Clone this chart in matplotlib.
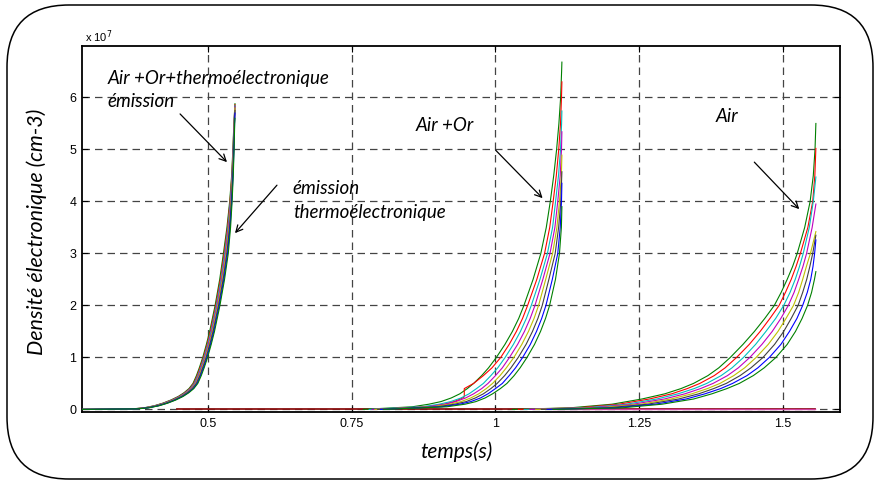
import numpy as np
import matplotlib
matplotlib.use("Agg")
import matplotlib.pyplot as plt
from matplotlib.patches import FancyBboxPatch

# MATLAB-style colour order of the eight simulated runs in each family
run_colors = ["#008000", "#ff0000", "#00bfbf", "#bf00bf", "#bfbf00", "#404040", "#0000ff", "#008000"]
nan = np.nan

# ---- Family 1 : Air + Or + emission thermoelectronique (density in 1e7 cm-3) ----
levels_1 = [0, 0.01, 0.03, 0.07, 0.12, 0.18, 0.25, 0.32, 0.4, 0.5, 0.65, 0.8, 1.0,
            1.25, 1.5, 2.0, 2.5, 3.0, 3.5, 4.0, 4.5, 5.0, 5.5]
times_1 = [
    [0.28, 0.3678, 0.3878, 0.4058, 0.4208, 0.4348, 0.4478, 0.4576, 0.4663, 0.4733, 0.4793, 0.4843, 0.4903,
     0.4966, 0.5023, 0.5118, 0.5198, 0.5263, 0.5324, 0.5372, 0.5406, 0.54275, 0.5445],
    [0.28, 0.3690, 0.3890, 0.4070, 0.4220, 0.4360, 0.4490, 0.4588, 0.4675, 0.4745, 0.4805, 0.4855, 0.4915,
     0.4978, 0.5035, 0.5130, 0.5210, 0.5275, 0.5333, 0.5378, 0.5410, 0.54305, 0.5447],
    [0.28, 0.3702, 0.3902, 0.4082, 0.4232, 0.4372, 0.4502, 0.4600, 0.4687, 0.4757, 0.4817, 0.4867, 0.4927,
     0.4990, 0.5047, 0.5142, 0.5222, 0.5287, 0.5342, 0.5384, 0.5414, 0.54335, 0.5449],
    [0.28, 0.3714, 0.3914, 0.4094, 0.4244, 0.4384, 0.4514, 0.4612, 0.4699, 0.4769, 0.4829, 0.4879, 0.4939,
     0.5002, 0.5059, 0.5154, 0.5234, 0.5299, 0.5351, 0.5390, 0.5418, 0.54365, 0.5451],
    [0.28, 0.3726, 0.3926, 0.4106, 0.4256, 0.4396, 0.4526, 0.4624, 0.4711, 0.4781, 0.4841, 0.4891, 0.4951,
     0.5014, 0.5071, 0.5166, 0.5246, 0.5311, 0.5360, 0.5396, 0.5422, 0.54395, 0.5453],
    [0.28, 0.3738, 0.3938, 0.4118, 0.4268, 0.4408, 0.4538, 0.4636, 0.4723, 0.4793, 0.4853, 0.4903, 0.4963,
     0.5026, 0.5083, 0.5178, 0.5258, 0.5323, 0.5369, 0.5402, 0.5426, 0.54425, 0.5455],
    [0.28, 0.3750, 0.3950, 0.4130, 0.4280, 0.4420, 0.4550, 0.4648, 0.4735, 0.4805, 0.4865, 0.4915, 0.4975,
     0.5038, 0.5095, 0.5190, 0.5270, 0.5335, 0.5378, 0.5408, 0.5430, 0.54455, 0.5457],
    [0.28, 0.3762, 0.3962, 0.4142, 0.4292, 0.4432, 0.4562, 0.4660, 0.4747, 0.4817, 0.4877, 0.4927, 0.4987,
     0.5050, 0.5107, 0.5202, 0.5282, 0.5347, 0.5387, 0.5414, 0.5434, 0.54485, 0.5459],
]
end_time_1 = 0.5464
end_peak_1 = [5.88, 5.86, 5.84, 5.82, 5.80, 5.75, 5.70, 5.60]

# ---- Family 2 : Air + Or ----
levels_2 = [0, 0.05, 0.1, 0.15, 0.22, 0.3, 0.4, 0.5, 0.65, 0.8, 1.0, 1.25, 1.5, 1.75, 2.0,
            2.5, 3.0, 3.5, 4.0, 4.5, 5.0, 5.5, 6.0, 6.5]
times_2 = [
    [0.770, 0.855, 0.884, 0.905, 0.923, 0.938, 0.951, 0.962, 0.976, 0.988, 1.0016, 1.0165, 1.0295, 1.0405, 1.0496,
     1.0655, 1.0790, 1.0885, 1.0955, 1.1015, 1.1065, 1.1105, 1.1135, 1.1152],
    [0.775, 0.864, 0.893, 0.914, 0.931, 0.946, 0.959, 0.970, 0.984, 0.996, 1.0092, 1.0239, 1.0365, 1.0472, 1.0560,
     1.0720, 1.0855, 1.0945, 1.1005, 1.1060, 1.1102, 1.1133, 1.1150, nan],
    [0.780, 0.872, 0.902, 0.922, 0.940, 0.954, 0.967, 0.979, 0.992, 1.004, 1.0169, 1.0312, 1.0435, 1.0538, 1.0624,
     1.0775, 1.0905, 1.0995, 1.1047, 1.1098, 1.1133, 1.1152, nan, nan],
    [0.785, 0.881, 0.911, 0.931, 0.948, 0.962, 0.976, 0.987, 1.000, 1.012, 1.0245, 1.0386, 1.0505, 1.0605, 1.0688,
     1.0825, 1.0950, 1.1035, 1.1085, 1.1128, 1.1150, nan, nan, nan],
    [0.790, 0.889, 0.920, 0.940, 0.957, 0.971, 0.984, 0.995, 1.008, 1.019, 1.0321, 1.0459, 1.0575, 1.0672, 1.0751,
     1.0875, 1.0995, 1.1070, 1.1115, 1.1148, nan, nan, nan, nan],
    [0.795, 0.898, 0.929, 0.949, 0.965, 0.979, 0.992, 1.003, 1.016, 1.027, 1.0397, 1.0533, 1.0645, 1.0739, 1.0815,
     1.0930, 1.1040, 1.1100, 1.1138, nan, nan, nan, nan, nan],
    [0.800, 0.906, 0.938, 0.957, 0.974, 0.987, 1.000, 1.012, 1.024, 1.035, 1.0474, 1.0607, 1.0715, 1.0805, 1.0879,
     1.0990, 1.1085, 1.1128, 1.1150, nan, nan, nan, nan, nan],
    [0.805, 0.915, 0.947, 0.966, 0.982, 0.995, 1.0085, 1.020, 1.0325, 1.043, 1.0550, 1.0680, 1.0785, 1.0872, 1.0943,
     1.1045, 1.1115, 1.1148, nan, nan, nan, nan, nan, nan],
]
end_time_2 = 1.1157
end_peak_2 = [6.68, 6.30, 5.74, 5.34, 4.89, 4.57, 4.35, 3.90]
# lower part of the red run of this family, which jumps at t = 0.9457 s
red_low_t = [0.800, 0.885, 0.912, 0.928, 0.943, 0.9457, 0.9457, 0.962, 0.979, 0.994]
red_low_n = [0.0, 0.05, 0.10, 0.15, 0.22, 0.24, 0.40, 0.50, 0.65, 0.80]

# ---- Family 3 : Air ----
levels_3 = [0, 0.03, 0.1, 0.2, 0.3, 0.4, 0.5, 0.65, 0.8, 1.0, 1.25, 1.5, 1.75, 2.0, 2.25, 2.5,
            2.75, 3.0, 3.5, 4.0, 4.5, 5.0]
times_3 = [
    [1.03, 1.130, 1.203, 1.255, 1.295, 1.323, 1.345, 1.370, 1.389, 1.409, 1.431, 1.451, 1.469, 1.4856, 1.4975, 1.508,
     1.5175, 1.5255, 1.5385, 1.548, 1.5535, 1.5565],
    [1.04, 1.143, 1.215, 1.268, 1.307, 1.334, 1.356, 1.381, 1.400, 1.420, 1.442, 1.461, 1.478, 1.494, 1.505, 1.515,
     1.5235, 1.531, 1.544, 1.5525, 1.5562, 1.5579],
    [1.05, 1.156, 1.228, 1.281, 1.318, 1.346, 1.368, 1.393, 1.412, 1.432, 1.453, 1.471, 1.488, 1.502, 1.513, 1.522,
     1.5295, 1.536, 1.5465, 1.5535, nan, nan],
    [1.06, 1.169, 1.240, 1.294, 1.330, 1.357, 1.379, 1.404, 1.423, 1.443, 1.464, 1.482, 1.497, 1.510, 1.520, 1.528,
     1.5355, 1.5418, 1.5515, nan, nan, nan],
    [1.07, 1.181, 1.253, 1.306, 1.342, 1.369, 1.391, 1.415, 1.434, 1.454, 1.475, 1.492, 1.506, 1.519, 1.528, 1.535,
     1.5415, 1.5485, nan, nan, nan, nan],
    [1.08, 1.194, 1.265, 1.319, 1.354, 1.380, 1.402, 1.426, 1.445, 1.466, 1.486, 1.502, 1.515, 1.527, 1.535, 1.542,
     1.5475, 1.5525, nan, nan, nan, nan],
    [1.09, 1.207, 1.278, 1.332, 1.365, 1.392, 1.413, 1.438, 1.457, 1.477, 1.497, 1.512, 1.525, 1.535, 1.543, 1.549,
     1.553, 1.5558, nan, nan, nan, nan],
    [1.10, 1.220, 1.290, 1.345, 1.377, 1.403, 1.4247, 1.449, 1.468, 1.4885, 1.508, 1.5225, 1.534, 1.5435, 1.5505,
     1.5555, nan, nan, nan, nan, nan, nan],
]
end_time_3 = 1.558
end_peak_3 = [5.50, 5.02, 4.47, 3.95, 3.42, 3.35, 3.26, 2.65]

# flat runs lying on the zero line
flat_red_t = [0.445, 1.557]
flat_red_n = [0.0, 0.0]
flat_mag_t = [1.10, 1.557]
flat_mag_n = [0.006, 0.006]

x_ticks = [0.5, 0.75, 1.0, 1.25, 1.5]
x_tick_labels = ["0.5", "0.75", "1", "1.25", "1.5"]
y_ticks = [0, 1, 2, 3, 4, 5, 6]

W, H = 878, 483
fig = plt.figure(figsize=(W / 100, H / 100), dpi=100)

# rounded frame around the whole figure (pixel coordinates)
bg = fig.add_axes([0, 0, 1, 1])
bg.set_xlim(0, W)
bg.set_ylim(H, 0)
bg.axis("off")
bg.add_patch(FancyBboxPatch((7, 5), 866, 474, boxstyle="round,pad=0,rounding_size=62",
                            fill=False, edgecolor="black", linewidth=1.1))

ax = fig.add_axes([82 / W, 1 - 412 / H, (840 - 82) / W, (412 - 46) / H])
ax.set_zorder(2)
ax.patch.set_alpha(0)


def run_points(levels, row, end_t, peak, min_level=-1.0):
    t = [v for j, v in enumerate(row) if not np.isnan(v) and levels[j] > min_level]
    n = [levels[j] for j, v in enumerate(row) if not np.isnan(v) and levels[j] > min_level]
    return t + [end_t], n + [peak]


def draw_family(levels, times, end_t, peaks, skip=()):
    for i, row in enumerate(times):
        if i in skip:
            continue
        t, n = run_points(levels, row, end_t, peaks[i])
        ax.plot(t, n, color=run_colors[i], lw=0.8, zorder=3 + i * 0.01)


ax.plot(flat_red_t, flat_red_n, color="#8a1010", lw=1.3, zorder=3)
ax.plot(flat_mag_t, flat_mag_n, color="#d040a0", lw=1.0, zorder=3)

draw_family(levels_1, times_1, end_time_1, end_peak_1)
draw_family(levels_2, times_2, end_time_2, end_peak_2, skip=(1,))
t_up, n_up = run_points(levels_2, times_2[1], end_time_2, end_peak_2[1], min_level=0.8)
ax.plot(red_low_t + t_up, red_low_n + n_up, color=run_colors[1], lw=0.8, zorder=3)
draw_family(levels_3, times_3, end_time_3, end_peak_3)

ax.set_xlim(0.28, 1.6)
ax.set_ylim(-0.05, 6.99)
ax.set_xticks(x_ticks)
ax.set_xticklabels(x_tick_labels)
ax.set_yticks(y_ticks)
ax.grid(True, color="#444444", linestyle=(0, (6, 4)), linewidth=0.9)
ax.tick_params(direction="in", length=4, width=0.8, top=True, right=True,
               labelsize=9, pad=4)
for lab in ax.get_xticklabels() + ax.get_yticklabels():
    lab.set_family("Liberation Sans")
for sp in ax.spines.values():
    sp.set_linewidth(1.3)

fig.text(85 / W, 1 - 37 / H, r"x 10$^{7}$", fontsize=8, family="Liberation Sans",
         va="center", ha="left")

lab_font = dict(family="Lato", style="italic")
ax.set_xlabel("temps(s)", fontsize=15, **lab_font)
ax.set_ylabel("Densité électronique (cm-3)", fontsize=15.5, **lab_font)
ax.xaxis.set_label_coords((456 - 82) / 758, -(452 - 412) / 366)
ax.yaxis.set_label_coords(-(82 - 37) / 758, (412 - 232) / 366)
ax.xaxis.label.set_va("center")
ax.yaxis.label.set_va("center")

txt = dict(fontsize=13.5, ha="left", va="center", **lab_font)
ax.text(0.3238, 6.37, "Air +Or+thermoélectronique", **txt)
ax.text(0.3238, 5.93, "émission", **txt)
ax.text(0.6473, 4.256, "émission", **txt)
ax.text(0.6473, 3.79, "thermoélectronique", **txt)
ax.text(0.8612, 5.467, "Air +Or", **txt)
ax.text(1.3827, 5.64, "Air", **txt)

arrow = dict(arrowstyle="->", color="black", lw=0.9, mutation_scale=12, shrinkA=0, shrinkB=0)
ax.annotate("", xy=(0.5325, 4.756), xytext=(0.4508, 5.683), arrowprops=arrow)
ax.annotate("", xy=(0.5464, 3.39), xytext=(0.6195, 4.313), arrowprops=arrow)
ax.annotate("", xy=(1.0821, 4.063), xytext=(1.0003, 4.986), arrowprops=arrow)
ax.annotate("", xy=(1.5290, 3.852), xytext=(1.4508, 4.756), arrowprops=arrow)

fig.savefig("out.png", dpi=100)
